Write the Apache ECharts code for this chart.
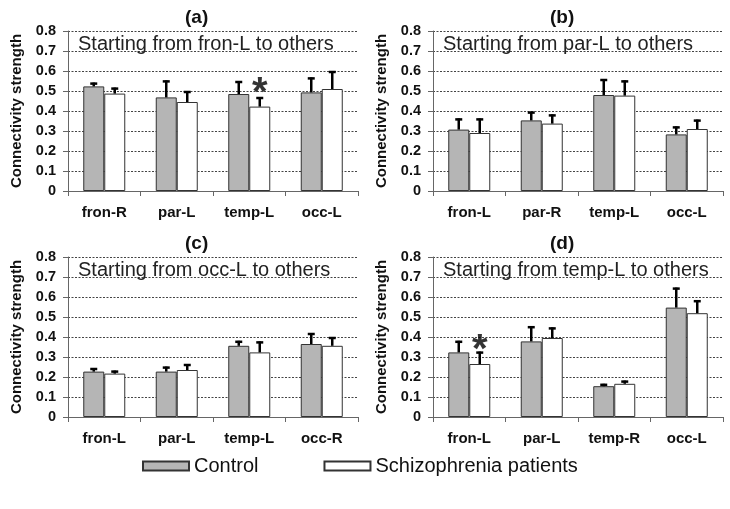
<!DOCTYPE html>
<html><head><meta charset="utf-8">
<script src="https://cdn.jsdelivr.net/npm/echarts@6/dist/echarts.min.js"></script>
<style>html,body{margin:0;padding:0;background:#fff}#c{width:730px;height:509px}</style>
</head><body><div id="c"></div><script>
// ---- data ----
const panelLabels = ['(a)', '(b)', '(c)', '(d)'];
const panelNotes = ['Starting from fron-L to others', 'Starting from par-L to others',
                    'Starting from occ-L to others', 'Starting from temp-L to others'];
const catsA = ['fron-R', 'par-L', 'temp-L', 'occ-L'];
const catsB = ['fron-L', 'par-R', 'temp-L', 'occ-L'];
const catsC = ['fron-L', 'par-L', 'temp-L', 'occ-R'];
const catsD = ['fron-L', 'par-L', 'temp-R', 'occ-L'];
const ctrlA = [0.523, 0.468, 0.485, 0.493];
const ctrlTopA = [0.542, 0.553, 0.550, 0.568];
const schA = [0.487, 0.445, 0.422, 0.510];
const schTopA = [0.517, 0.500, 0.470, 0.600];
const ctrlB = [0.307, 0.353, 0.480, 0.283];
const ctrlTopB = [0.363, 0.397, 0.560, 0.323];
const schB = [0.290, 0.337, 0.477, 0.310];
const schTopB = [0.363, 0.383, 0.553, 0.357];
const ctrlC = [0.227, 0.227, 0.356, 0.365];
const ctrlTopC = [0.245, 0.252, 0.381, 0.420];
const schC = [0.217, 0.235, 0.323, 0.356];
const schTopC = [0.232, 0.265, 0.378, 0.400];
const ctrlD = [0.323, 0.378, 0.154, 0.547];
const ctrlTopD = [0.381, 0.454, 0.166, 0.647];
const schD = [0.265, 0.395, 0.166, 0.519];
const schTopD = [0.327, 0.448, 0.182, 0.584];
const starsA = [['temp-L', 0.525]];
const starsD = [['fron-L', 0.370]];
const yTickLabels = ['0', '0.1', '0.2', '0.3', '0.4', '0.5', '0.6', '0.7', '0.8'];
const groupNames = ['Control', 'Schizophrenia patients'];

// ---- layout / style ----
const FONT = 'Liberation Sans, Arial, sans-serif';
const BAR_W = 21;
const grids = [
  {left: 68, top: 31, width: 290, height: 160},
  {left: 433, top: 31, width: 290, height: 160},
  {left: 68, top: 257, width: 290, height: 160},
  {left: 433, top: 257, width: 290, height: 160}
];
const panels = [
  {cats: catsA, c: ctrlA, ct: ctrlTopA, s: schA, st: schTopA, stars: starsA},
  {cats: catsB, c: ctrlB, ct: ctrlTopB, s: schB, st: schTopB, stars: []},
  {cats: catsC, c: ctrlC, ct: ctrlTopC, s: schC, st: schTopC, stars: []},
  {cats: catsD, c: ctrlD, ct: ctrlTopD, s: schD, st: schTopD, stars: starsD}
];

function errSeries(i, means, tops, offset) {
  return {
    type: 'custom', xAxisIndex: i, yAxisIndex: i, z: 5,
    data: means.map((m, k) => [k, m, tops[k]]),
    renderItem: function (params, api) {
      const p0 = api.coord([api.value(0), api.value(1)]);
      const p1 = api.coord([api.value(0), api.value(2)]);
      const x = p0[0] + offset;
      return {type: 'group', children: [
        {type: 'line', shape: {x1: x, y1: p0[1], x2: x, y2: p1[1]}, style: {stroke: '#000', lineWidth: 2.5}},
        {type: 'line', shape: {x1: x - 3.5, y1: p1[1] + 1, x2: x + 3.5, y2: p1[1] + 1}, style: {stroke: '#000', lineWidth: 2.5}}
      ]};
    }
  };
}

const xAxes = [], yAxes = [], series = [], titles = [];
panels.forEach((p, i) => {
  const g = grids[i];
  xAxes.push({
    type: 'category', gridIndex: i, data: p.cats,
    axisLine: {lineStyle: {color: '#666', width: 1}},
    axisTick: {show: true, length: 5, lineStyle: {color: '#666'}},
    axisLabel: {fontFamily: FONT, fontWeight: 'bold', fontSize: 15, color: '#111', margin: 14},
    splitLine: {show: false}
  });
  yAxes.push({
    type: 'value', gridIndex: i, min: 0, max: 0.8, interval: 0.1,
    name: 'Connectivity strength', nameLocation: 'middle', nameGap: 44, nameRotate: 90,
    nameTextStyle: {fontFamily: FONT, fontWeight: 'bold', fontSize: 15, color: '#111'},
    axisLine: {show: true, lineStyle: {color: '#666', width: 1}},
    axisTick: {show: true, length: 5, lineStyle: {color: '#666'}},
    axisLabel: {fontFamily: FONT, fontWeight: 'bold', fontSize: 14.5, color: '#111', margin: 12,
      formatter: (v) => yTickLabels[Math.round(v * 10)]},
    splitLine: {show: true, lineStyle: {color: '#444', type: [2, 1.5], width: 1}}
  });
  series.push({
    type: 'bar', name: groupNames[0], xAxisIndex: i, yAxisIndex: i, data: p.c,
    barWidth: BAR_W, barGap: '0%',
    itemStyle: {color: '#b5b5b5', borderColor: '#333', borderWidth: 1}
  });
  series.push({
    type: 'bar', name: groupNames[1], xAxisIndex: i, yAxisIndex: i, data: p.s,
    barWidth: BAR_W, barGap: '0%',
    itemStyle: {color: '#ffffff', borderColor: '#333', borderWidth: 1}
  });
  series.push(errSeries(i, p.c, p.ct, -BAR_W / 2));
  series.push(errSeries(i, p.s, p.st, BAR_W / 2));
  if (p.stars.length) {
    series.push({
      type: 'scatter', xAxisIndex: i, yAxisIndex: i, z: 6, symbolSize: 0,
      data: p.stars,
      label: {show: true, position: 'inside', formatter: '*', offset: [BAR_W / 2, 8],
        fontFamily: FONT, fontWeight: 'bold', fontSize: 40, color: '#000'}
    });
  }
  titles.push({
    text: panelLabels[i], left: g.left + g.width / 2 - 33, top: g.top - 28,
    textStyle: {fontFamily: FONT, fontWeight: 'bold', fontSize: 19, color: '#111'}
  });
  titles.push({
    text: panelNotes[i], left: g.left + 5, top: g.top - 2,
    textStyle: {fontFamily: FONT, fontWeight: 'normal', fontSize: 20, color: '#222'}
  });
});

const chart = echarts.init(document.getElementById('c'), null, {renderer: 'canvas'});
chart.setOption({
  backgroundColor: '#fff',
  animation: false,
  title: titles,
  grid: grids,
  xAxis: xAxes,
  yAxis: yAxes,
  legend: {
    data: groupNames, left: 137, top: 451, itemWidth: 46, itemHeight: 9, itemGap: 65,
    icon: 'rect',
    textStyle: {fontFamily: FONT, fontSize: 20, color: '#111'}
  },
  series: series
});
</script></body></html>
